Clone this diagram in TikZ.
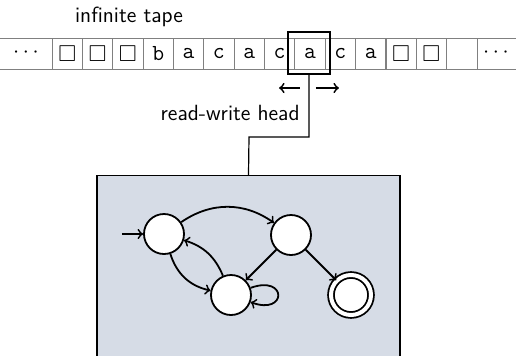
\documentclass[tikz,border=0pt]{standalone}
\usepackage{amssymb}
\usetikzlibrary{arrows,positioning}
\definecolor{ctrl}{RGB}{214,220,230}
\tikzset{font=\sffamily\fontsize{11pt}{13pt}\selectfont}
\tikzstyle{cell}=[draw=gray,minimum width=15.18pt,minimum height=15.5pt,inner sep=0pt,font=\ttfamily\fontsize{11.5pt}{14pt}\selectfont]
\tikzstyle{state}=[circle,draw,fill=white,line width=0.9pt,minimum size=20pt,inner sep=0pt]

\begin{document}
\begin{tikzpicture}[x=0.5pt,y=-0.5pt]
\useasboundingbox (0,0) rectangle (516,355);
% tape
\draw[gray] (0,38) -- (516,38) (0,69) -- (516,69);
\node (T) at (129,17) {inf\kern0pt inite tape};
\node (L) at (26,53) {$\cdots$};
\node (R) at (496,53) {$\cdots$};
\node[cell] (c1) at (67.2,53.5) {$\square$};
\node[cell] (c2) at (97.5,53.5) {$\square$};
\node[cell] (c3) at (127.9,53.5) {$\square$};
\node[cell] (c4) at (158.2,53.5) {b};
\node[cell] (c5) at (188.6,53.5) {a};
\node[cell] (c6) at (218.9,53.5) {c};
\node[cell] (c7) at (249.3,53.5) {a};
\node[cell] (c8) at (279.6,53.5) {c};
\node[cell] (c9) at (310.0,53.5) {a};
\node[cell] (c10) at (340.4,53.5) {c};
\node[cell] (c11) at (370.7,53.5) {a};
\node[cell] (c12) at (401.1,53.5) {$\square$};
\node[cell] (c13) at (431.4,53.5) {$\square$};
\node[cell] (c14) at (461.8,53.5) {};
% head
\node[draw,semithick,minimum width=21pt,minimum height=21pt] (H) at (309,53) {};
\coordinate (L0) at (300,88);
\coordinate (L1) at (279,88);
\coordinate (R0) at (316,88);
\coordinate (R1) at (339,88);
\draw[->,line width=0.9pt] (L0) -- (L1);
\draw[->,line width=0.9pt] (R0) -- (R1);
\node[anchor=east,inner sep=0pt] (W) at (300,113) {read-write head};
\coordinate (K) at (249,137);
\node[draw,semithick,fill=ctrl,minimum width=151.5pt,minimum height=100pt,anchor=north] (C) at (248.5,175) {};
\draw[semithick] (H.south) |- (K) -- (C.north);
% control
\node[state] (Q0) at (164,234) {};
\node[state] (Q1) at (291,235) {};
\node[state] (Q2) at (231,295) {};
\node[state,double,double distance=2pt] (Q3) at (351,295) {};
\coordinate (I) at (122,234);
\path[->,line width=0.9pt]
(I) edge (Q0)
(Q0) edge [bend left=35] (Q1)
(Q0) edge [bend right=30] (Q2)
(Q2) edge [bend right=25] (Q0)
(Q1) edge (Q2)
(Q1) edge (Q3)
(Q2) edge [out=20,in=-20,looseness=7] (Q2);
\end{tikzpicture}
\end{document}
